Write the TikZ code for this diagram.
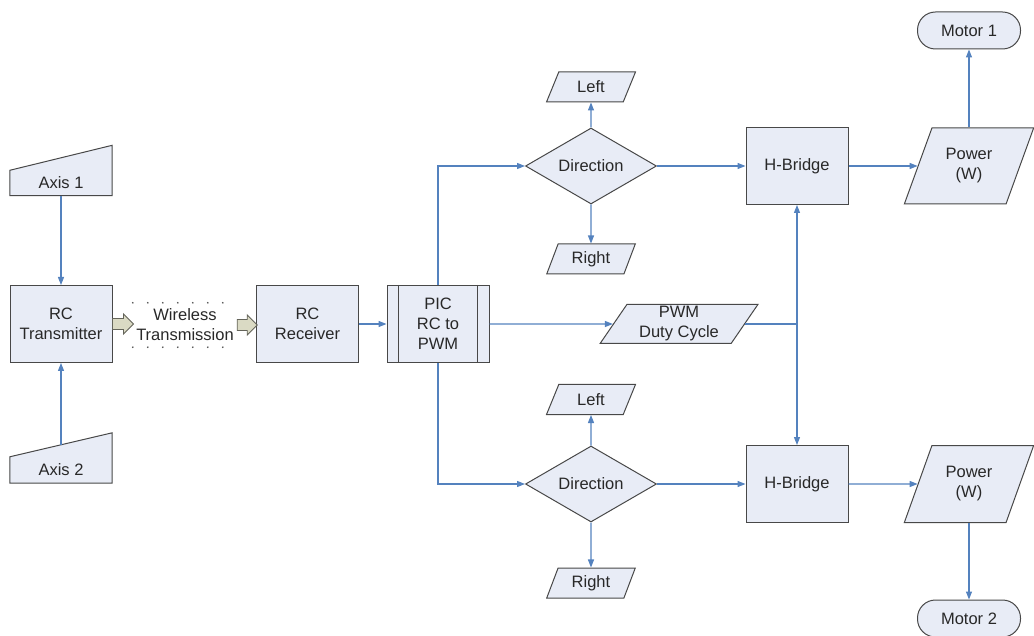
\documentclass[tikz,border=0pt]{standalone}
\usepackage{fontspec}
\setmainfont{Liberation Sans}
\usetikzlibrary{shapes.geometric,arrows.meta}
\definecolor{boxfill}{RGB}{232,236,246}
\definecolor{boxline}{RGB}{72,72,72}
\definecolor{conncol}{RGB}{84,130,190}
\definecolor{txt}{RGB}{40,40,40}
\definecolor{bafill}{RGB}{218,218,196}
\definecolor{baline}{RGB}{100,100,90}
\pgfdeclarelayer{background}
\pgfsetlayers{background,main}
\begin{document}
\begin{tikzpicture}[x=1pt,y=-1pt,
  every node/.style={font=\fontsize{16.5}{20}\selectfont, text=txt, align=center, inner sep=0pt},
  base/.style={draw=boxline, fill=boxfill, line width=1pt},
  proc/.style={base, rectangle, minimum width=102pt, minimum height=77pt},
  decision/.style={base, diamond, aspect=1.72, minimum width=131pt, minimum height=76pt},
  io/.style={base, trapezium, trapezium stretches=true},
  term/.style={base, rectangle, rounded corners=18pt, minimum width=103pt, minimum height=37pt},
  conn/.style={draw=conncol, line width=1.1pt, -{Triangle[length=8pt,width=6pt]}},
  plain/.style={draw=conncol, line width=1.1pt},
  blockarrow/.style={draw=baline, fill=bafill, line width=0.9pt, line join=miter},
  dotrow/.style={draw=black!70, line width=1.8pt, line cap=round, dash pattern=on 0pt off 15pt}
]
\useasboundingbox (0,0) rectangle (1034,636);

% left column
\node[minimum width=102pt, minimum height=25pt] (a1) at (61,183) {Axis 1};
\node[minimum width=102pt, minimum height=26pt] (a2) at (61,470) {Axis 2};
\path (a2.north) ++(0,-12) coordinate (a2t);
\begin{pgfonlayer}{background}
\draw[base] (a1.south west) -- (a1.south east) -- ([yshift=25pt]a1.north east) -- (a1.north west) -- cycle;
\draw[base] (a2.south west) -- (a2.south east) -- ([yshift=24pt]a2.north east) -- (a2.north west) -- cycle;
\end{pgfonlayer}

\node[proc] (tx) at (61,324) {RC\\Transmitter};
\node[minimum width=104pt, minimum height=44pt] (wl) at (185,325) {Wireless\\Transmission};
\draw[dotrow] (wl.north west) -- (wl.north east);
\draw[dotrow] (wl.south west) -- (wl.south east);
\node[proc] (rx) at (307.5,324) {RC\\Receiver};
\node[proc] (pic) at (438,324) {PIC\\RC to\\PWM};
\draw[boxline, line width=1pt] ([xshift=12pt]pic.north west) -- ([xshift=12pt]pic.south west);
\draw[boxline, line width=1pt] ([xshift=-12pt]pic.north east) -- ([xshift=-12pt]pic.south east);

% block arrows (wireless link)
\draw[blockarrow] (tx.east) ++(0,-5.5) -- ++(11,0) -- ++(0,-4.5) -- ++(10,10) -- ++(-10,10) -- ++(0,-4.5) -- ++(-11,0) -- cycle;
\draw[blockarrow] (wl.east) ++(0,-5.5) -- ++(10,0) -- ++(0,-4.5) -- ++(10,10) -- ++(-10,10) -- ++(0,-4.5) -- ++(-10,0) -- cycle;

% top branch
\node[decision] (d1) at (591,166) {Direction};
\node[io, trapezium left angle=66.6, trapezium right angle=113.4, minimum width=89pt, minimum height=30pt] (l1) at (591,87) {Left};
\node[io, trapezium left angle=66.6, trapezium right angle=113.4, minimum width=89pt, minimum height=30pt] (r1) at (591,259) {Right};
\node[proc] (hb1) at (797,166) {H-Bridge};
\node[io, trapezium left angle=63.4, trapezium right angle=116.6, minimum width=130pt, minimum height=76pt] (p1) at (969,166) {Power\\(W)};
\node[term] (m1) at (969,30.5) {Motor 1};

% middle
\node[io, trapezium left angle=59.5, trapezium right angle=120.5, minimum width=158pt, minimum height=39pt] (pwm) at (679,324) {PWM\\Duty Cycle};

% bottom branch
\node[decision] (d2) at (591,484) {Direction};
\node[io, trapezium left angle=66.6, trapezium right angle=113.4, minimum width=89pt, minimum height=30pt] (l2) at (591,399.5) {Left};
\node[io, trapezium left angle=66.6, trapezium right angle=113.4, minimum width=89pt, minimum height=30pt] (r2) at (591,583) {Right};
\node[proc] (hb2) at (797,484) {H-Bridge};
\node[io, trapezium left angle=63.4, trapezium right angle=116.6, minimum width=130pt, minimum height=77pt] (p2) at (969,484) {Power\\(W)};
\node[term] (m2) at (969,618.5) {Motor 2};

% connectors
\draw[conn] (a1.south) -- (tx.north);
\draw[conn] (a2t) -- (tx.south);
\draw[conn] (rx.east) -- (pic.west);
\draw[conn] (pic.north) |- (d1.west);
\draw[conn] (pic.south) |- (d2.west);
\draw[conn] (pic.east) -- (pwm.west);
\draw[conn] (d1.north) -- (l1.south);
\draw[conn] (d1.south) -- (r1.north);
\draw[conn] (d1.east) -- (hb1.west);
\draw[conn] (hb1.east) -- (p1.west);
\draw[conn] (p1.north) -- (m1.south);
\draw[conn] (d2.north) -- (l2.south);
\draw[conn] (d2.south) -- (r2.north);
\draw[conn] (d2.east) -- (hb2.west);
\draw[conn] (hb2.east) -- (p2.west);
\draw[conn] (p2.south) -- (m2.north);
\coordinate (j) at (hb1.south |- pwm.east);
\draw[plain] (pwm.east) -- (j);
\draw[conn] (j) -- (hb1.south);
\draw[conn] (j) -- (hb2.north);
\end{tikzpicture}
\end{document}
